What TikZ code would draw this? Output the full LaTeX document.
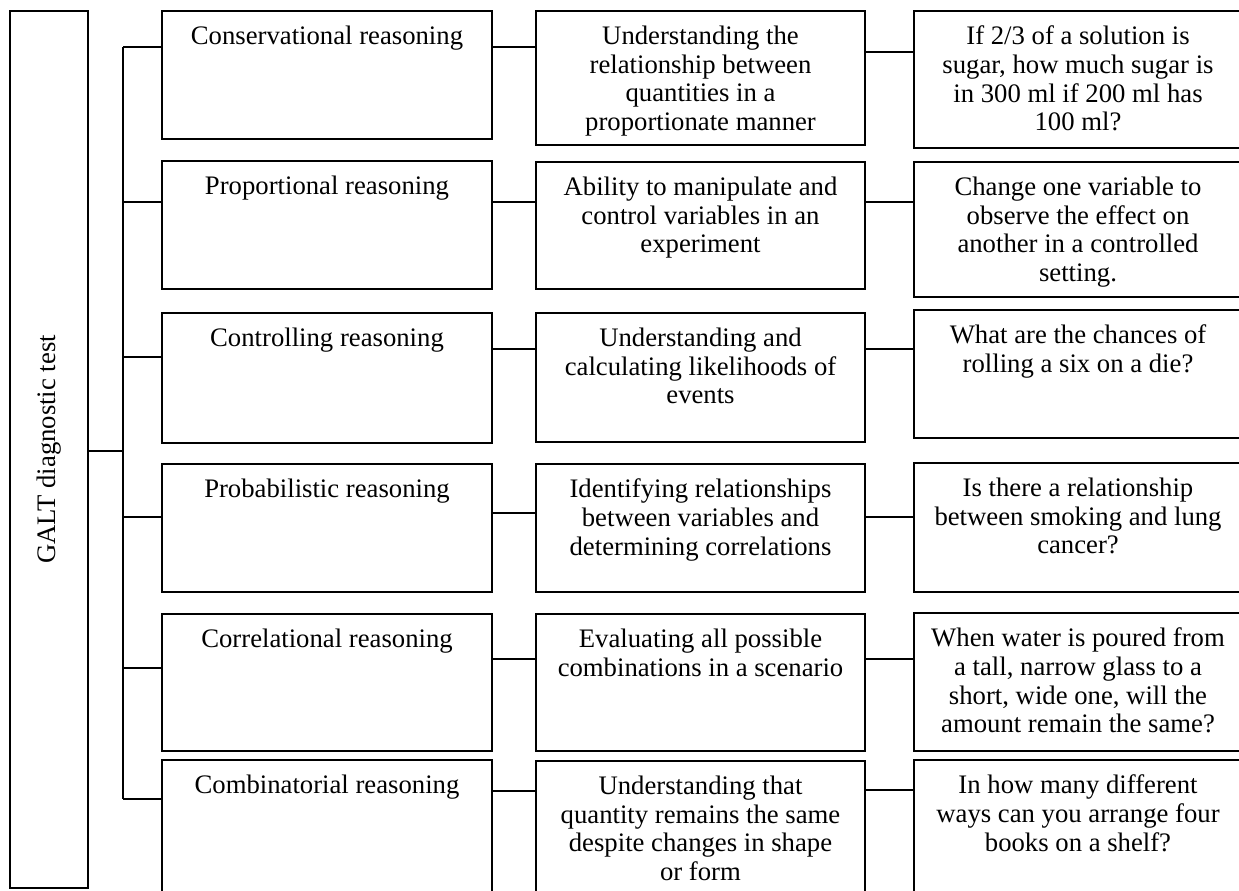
\documentclass[tikz,border=0pt]{standalone}
\usepackage{fontspec}
\setmainfont{Liberation Serif}
\usetikzlibrary{fit}

\begin{document}
\begin{tikzpicture}[x=0.02cm, y=-0.02cm, line width=1pt,
		box/.style={draw, inner sep=0pt},
		txt/.style={anchor=north, align=center, inner sep=8.5pt, font=\fontsize{15.2}{16.3}\selectfont}]
	\useasboundingbox (0,0) rectangle (1239,890);
	% test
	\node	(galt) [box, fit={(10,11) (88,888)}, label={[txt, rotate=90, anchor=center, inner sep=0pt]center:GALT diagnostic test}] {};
	% reasoning types
	\node	(r1) [box, fit={(162,11) (492,139)}, label={[txt]north:Conservational reasoning}] {};
	\node	(r2) [box, fit={(162,161) (492,289)}, label={[txt]north:Proportional reasoning}] {};
	\node	(r3) [box, fit={(162,313) (492,443)}, label={[txt]north:Controlling reasoning}] {};
	\node	(r4) [box, fit={(162,464) (492,592)}, label={[txt]north:Probabilistic reasoning}] {};
	\node	(r5) [box, fit={(162,614) (492,751)}, label={[txt]north:Correlational reasoning}] {};
	\node	(r6) [box, fit={(162,760) (492,895)}, label={[txt]north:Combinatorial reasoning}] {};
	% descriptions
	\node	(d1) [box, fit={(536,11) (865,145)}, label={[txt]north:Understanding the\\relationship between\\quantities in a\\proportionate manner}] {};
	\node	(d2) [box, fit={(536,162) (865,289)}, label={[txt]north:Ability to manipulate and\\control variables in an\\experiment}] {};
	\node	(d3) [box, fit={(536,313) (865,442)}, label={[txt]north:Understanding and\\calculating likelihoods of\\events}] {};
	\node	(d4) [box, fit={(536,464) (865,592)}, label={[txt]north:Identifying relationships\\between variables and\\determining correlations}] {};
	\node	(d5) [box, fit={(536,614) (865,751)}, label={[txt]north:Evaluating all possible\\combinations in a scenario}] {};
	\node	(d6) [box, fit={(536,761) (865,895)}, label={[txt]north:Understanding that\\quantity remains the same\\despite changes in shape\\or form}] {};
	% examples
	\node	(q1) [box, fit={(914,11) (1242,148)}, label={[txt]north:If 2/3 of a solution is\\sugar, how much sugar is\\in 300 ml if 200 ml has\\100 ml?}] {};
	\node	(q2) [box, fit={(914,162) (1242,297)}, label={[txt]north:Change one variable to\\observe the effect on\\another in a controlled\\setting.}] {};
	\node	(q3) [box, fit={(914,310) (1242,438)}, label={[txt]north:What are the chances of\\rolling a six on a die?}] {};
	\node	(q4) [box, fit={(914,463) (1242,592)}, label={[txt]north:Is there a relationship\\between smoking and lung\\cancer?}] {};
	\node	(q5) [box, fit={(914,613) (1242,751)}, label={[txt]north:When water is poured from\\a tall, narrow glass to a\\short, wide one, will the\\amount remain the same?}] {};
	\node	(q6) [box, fit={(914,760) (1242,895)}, label={[txt]north:In how many different\\ways can you arrange four\\books on a shelf?}] {};

	% trunk
	\coordinate (t0) at (123,451);
	\coordinate (t1) at (123,47);
	\coordinate (t2) at (123,202);
	\coordinate (t3) at (123,357);
	\coordinate (t4) at (123,517);
	\coordinate (t5) at (123,668);
	\coordinate (t6) at (123,799);

	\draw
	(galt.east |- t0) edge (t0)
	(t1) edge (t6)
	(t1) edge (r1.west |- t1)
	(t2) edge (r2.west |- t2)
	(t3) edge (r3.west |- t3)
	(t4) edge (r4.west |- t4)
	(t5) edge (r5.west |- t5)
	(t6) edge (r6.west |- t6)
	;
	\draw
	(r1.east |- 0,47) edge (d1.west |- 0,47)
	(r2.east |- 0,202) edge (d2.west |- 0,202)
	(r3.east |- 0,349) edge (d3.west |- 0,349)
	(r4.east |- 0,513) edge (d4.west |- 0,513)
	(r5.east |- 0,659) edge (d5.west |- 0,659)
	(r6.east |- 0,791) edge (d6.west |- 0,791)
	(d1.east |- 0,52) edge (q1.west |- 0,52)
	(d2.east |- 0,202) edge (q2.west |- 0,202)
	(d3.east |- 0,349) edge (q3.west |- 0,349)
	(d4.east |- 0,517) edge (q4.west |- 0,517)
	(d5.east |- 0,659) edge (q5.west |- 0,659)
	(d6.east |- 0,790) edge (q6.west |- 0,790)
	;
\end{tikzpicture}
\end{document}
